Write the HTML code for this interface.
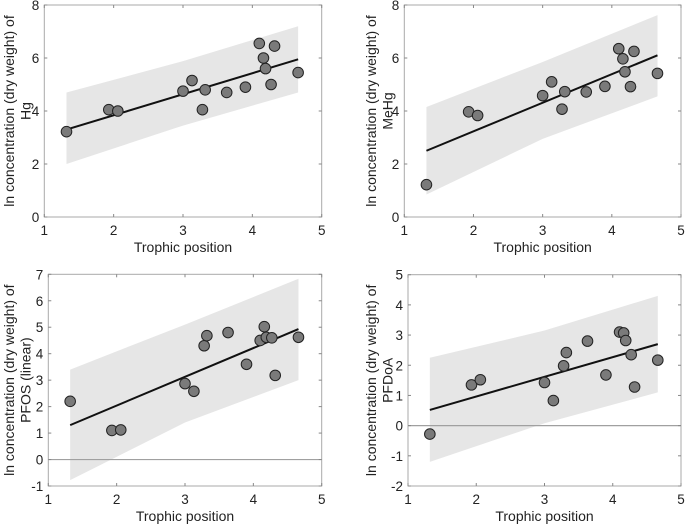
<!DOCTYPE html>
<html><head><meta charset="utf-8"><style>
body{margin:0;background:#fff;}
svg{display:block;font-family:"Liberation Sans",Arial,sans-serif;}
</style></head><body>
<svg id="chart" width="685" height="525" viewBox="0 0 685 525" xmlns="http://www.w3.org/2000/svg"></svg>
<script>
const trophic = [1.32,1.93,2.06,3.0,3.13,3.28,3.32,3.63,3.9,4.1,4.16,4.19,4.27,4.32,4.66];
const hgValues = [3.22,4.05,4.0,4.75,5.15,4.05,4.8,4.7,4.9,6.55,6.0,5.6,5.0,6.45,5.45];
const mehgValues = [1.22,3.97,3.83,4.58,5.1,4.07,4.73,4.72,4.93,6.35,5.97,5.48,4.92,6.25,5.42];
const pfosValues = [2.2,1.1,1.12,2.87,2.58,4.3,4.68,4.8,3.6,4.5,5.02,4.62,4.6,3.18,4.62];
const pfdoaValues = [-0.28,1.35,1.52,1.43,0.83,1.98,2.42,2.8,1.68,3.1,3.07,2.82,2.35,1.28,2.17];
const bandX = [1.32,3.0,4.66];
const hgFit = [3.3,4.63,5.95], hgLower=[2.0,3.45,4.7], hgUpper=[4.7,5.88,7.2];
const mehgFit = [2.5,4.3,6.1], mehgLower=[0.85,2.95,4.55], mehgUpper=[4.15,5.85,7.62];
const pfosFit = [1.3,3.12,4.93], pfosLower=[-0.78,1.4,3.0], pfosUpper=[3.4,5.1,6.83];
const pfdoaFit = [0.52,1.62,2.7], pfdoaLower=[-1.2,0.08,1.1], pfdoaUpper=[2.25,3.15,4.3];
const hgTicks=[0,2,4,6,8], mehgTicks=[0,2,4,6,8], pfosTicks=[-1,0,1,2,3,4,5,6,7], pfdoaTicks=[-2,-1,0,1,2,3,4,5];
const xTicks=[1,2,3,4,5];

const NS="http://www.w3.org/2000/svg";
const svg=document.getElementById('chart');
function mk(tag,attrs,parent){const e=document.createElementNS(NS,tag);for(const k in attrs)e.setAttribute(k,attrs[k]);(parent||svg).appendChild(e);return e;}

const panels=[
 {key:'hg',x0:44.3,x1:321.7,yT:5,yB:217,ymin:0,ymax:8,vals:hgValues,fit:hgFit,lo:hgLower,hi:hgUpper,ticks:hgTicks,lab:'Hg',zero:false,xlY:252,ylX:10},
 {key:'mehg',x0:404.3,x1:681,yT:5,yB:217,ymin:0,ymax:8,vals:mehgValues,fit:mehgFit,lo:mehgLower,hi:mehgUpper,ticks:mehgTicks,lab:'MeHg',zero:false,xlY:252,ylX:372},
 {key:'pfos',x0:48.3,x1:321.7,yT:274.3,yB:486,ymin:-1,ymax:7,vals:pfosValues,fit:pfosFit,lo:pfosLower,hi:pfosUpper,ticks:pfosTicks,lab:'PFOS (linear)',zero:true,xlY:521,ylX:10},
 {key:'pfdoa',x0:408,x1:681,yT:274.7,yB:486,ymin:-2,ymax:5,vals:pfdoaValues,fit:pfdoaFit,lo:pfdoaLower,hi:pfdoaUpper,ticks:pfdoaTicks,lab:'PFDoA',zero:true,xlY:521,ylX:372}
];

panels.forEach(p=>{
 const g=mk('g',{});
 
 
 const X=v=>p.x0+(v-1)/4*(p.x1-p.x0);
 const Y=v=>p.yB-(v-p.ymin)/(p.ymax-p.ymin)*(p.yB-p.yT);
 let pts=bandX.map((x,i)=>X(x)+','+Y(p.hi[i]));
 pts=pts.concat(bandX.slice().reverse().map((x,i)=>X(x)+','+Y(p.lo[bandX.length-1-i])));
 const band=mk('polygon',{points:pts.join(' '),fill:'#e6e6e6'},g);
 
 
 if(p.zero){
  const z=mk('line',{x1:p.x0,x2:p.x1,y1:Y(0),y2:Y(0),stroke:'#a0a0a0','stroke-width':1.2},g);
  
  
 }
 const box=mk('rect',{x:p.x0,y:p.yT,width:p.x1-p.x0,height:p.yB-p.yT,fill:'none',stroke:'#a8a8a8','stroke-width':1},g);
 
 
 xTicks.forEach(t=>{
  mk('line',{x1:X(t),x2:X(t),y1:p.yB,y2:p.yB-3,stroke:'#888'},g);
  mk('line',{x1:X(t),x2:X(t),y1:p.yT,y2:p.yT+3,stroke:'#888'},g);
  const tx=mk('text',{x:X(t),y:p.yB+18,'text-anchor':'middle','font-size':13.5,fill:'#222'},g);
  tx.textContent=t;
  
  
 });
 p.ticks.forEach(t=>{
  mk('line',{x1:p.x0,x2:p.x0+3,y1:Y(t),y2:Y(t),stroke:'#888'},g);
  mk('line',{x1:p.x1,x2:p.x1-3,y1:Y(t),y2:Y(t),stroke:'#888'},g);
  const ty=mk('text',{x:p.x0-5,y:Y(t)+5,'text-anchor':'end','font-size':13.5,fill:'#222'},g);
  ty.textContent=t;
  
  
 });
 const fl=mk('line',{x1:X(bandX[0]),y1:Y(p.fit[0]),x2:X(bandX[2]),y2:Y(p.fit[2]),stroke:'#111','stroke-width':2},g);
 
 
 trophic.forEach((x,i)=>{
  const c=mk('circle',{cx:X(x),cy:Y(p.vals[i]),r:5.3,fill:'#7a7a7a',stroke:'#222','stroke-width':1},g);
  
  
 });
 const xl=mk('text',{x:(p.x0+p.x1)/2,y:p.xlY,'text-anchor':'middle','font-size':14,fill:'#222'},g);
 xl.textContent='Trophic position';
 
 
 const cy=(p.yT+p.yB)/2;
 const yl=mk('text',{transform:`translate(${p.ylX},${cy}) rotate(-90)`,'text-anchor':'middle','font-size':14,fill:'#222'},g);
 
 
 const t1=mk('tspan',{x:0,dy:'0.3em'},yl);t1.textContent='ln concentration (dry weight) of';
 const t2=mk('tspan',{x:0,dy:'1.15em'},yl);t2.textContent=p.lab;
});
</script>
</body></html>
